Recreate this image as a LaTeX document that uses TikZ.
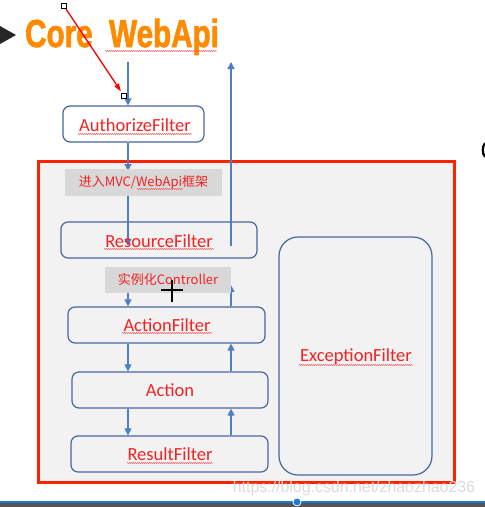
\documentclass[tikz,border=0pt]{standalone}
\usepackage{fontspec}
\usetikzlibrary{arrows.meta,decorations.pathmorphing,calc}
\newfontfamily\labfont{Carlito}
\newfontfamily\cjkfont{Noto Sans CJK SC}
\newfontfamily\titlefont[FakeBold=2]{Liberation Sans Bold}
\newfontfamily\wmfont{Liberation Sans}
\definecolor{boxblue}{HTML}{44689C}
\definecolor{arrblue}{HTML}{4F7FC0}
\definecolor{labred}{HTML}{F22222}
\definecolor{panel}{HTML}{F3F2F3}
\definecolor{labgray}{HTML}{D9D8D9}
\definecolor{titleorange}{HTML}{FF8A00}
\definecolor{framered}{HTML}{FF2200}
\definecolor{barblue}{HTML}{1E78D7}
\definecolor{bargray}{HTML}{555555}
\tikzset{
  fbox/.style={draw=boxblue, line width=1.2pt, rounded corners=7pt, inner sep=0pt,
    text=labred, font=\labfont\fontsize{18.5}{20}\selectfont},
  tag/.style={fill=labgray, inner sep=0pt, text=labred, font=\cjkfont\fontsize{13}{15}\selectfont},
  arr/.style={draw=arrblue, line width=1.3pt, -{Triangle[length=7pt,width=7pt]}},
  squig/.style={draw=labred!70, line width=0.5pt, decorate,
    decoration={snake, amplitude=0.6pt, segment length=2pt}},
}
\begin{document}
\begin{tikzpicture}[x=1pt,y=-1pt]
\useasboundingbox (0,0) rectangle (485,507);
\fill[white] (0,0) rectangle (485,507);
% title
\fill[black!85] (0,26) -- (16,35) -- (0,44) -- cycle;
\node[anchor=base west, inner sep=0pt, text=titleorange, xscale=0.76,
  font=\titlefont\fontsize{39}{40}\selectfont] (title) at (25,47) {Core\ \ WebApi};
\draw[squig] (105,51) -- (217,51);
% frame
\node[draw=framered, line width=3pt, fill=panel, minimum width=416pt, minimum height=321pt,
  inner sep=0pt] (frame) at (246,321.5) {};
% coordinates
\coordinate (dl) at (128,0);
\coordinate (ul) at (231,0);
\coordinate (in) at (128,62);
\coordinate (out) at (231,62);
\coordinate (rin) at (128,246);
\coordinate (rout) at (231,246);
\coordinate (cin) at (231,285);
\coordinate (l1t) at (128,171);
\coordinate (l1b) at (128,184);
\coordinate (l2b) at (128,280);
% nodes (boxes without fill so the arrows show)
\path
  node[fbox, minimum width=141pt, minimum height=36pt] (auth) at (133.5,124) {}
  node[fbox, minimum width=196pt, minimum height=36pt] (resf) at (159,240) {}
  node[fbox, minimum width=197pt, minimum height=36pt] (actf) at (166.5,325) {}
  node[fbox, minimum width=196pt, minimum height=36pt] (act) at (170,390) {}
  node[fbox, minimum width=197pt, minimum height=36pt] (resultf) at (169.5,454) {}
  node[fbox, rounded corners=19pt, minimum width=153pt, minimum height=238pt] (exc) at (355.5,356) {};
% arrows
\draw[arr] (in) -- (auth.north -| dl);
\draw[arr] (auth.south -| dl) -- (l1t);
\draw[arr] (l1b) -- (rin);
\draw[arr] (rout) -- (out);
\draw[arr] (actf.north -| ul) -- (cin);
\draw[arr] (l2b) -- (actf.north -| dl);
\draw[arr] (actf.south -| dl) -- (act.north -| dl);
\draw[arr] (act.south -| dl) -- (resultf.north -| dl);
\draw[arr] (act.north -| ul) -- (actf.south -| ul);
\draw[arr] (resultf.north -| ul) -- (act.south -| ul);
% tags
\node[tag, minimum width=157pt, minimum height=27pt] (lab1) at (143.5,182.5) {进入MVC/WebApi框架};
\node[tag, minimum width=126pt, minimum height=26pt] (lab2) at (168,280) {实例化Controller};
% texts
\node[text=labred, font=\labfont\fontsize{18.5}{20}\selectfont] at (135,125) {AuthorizeFilter};
\node[text=labred, font=\labfont\fontsize{18.5}{20}\selectfont] at (159,241) {ResourceFilter};
\node[text=labred, font=\labfont\fontsize{18.5}{20}\selectfont] at (167,325) {ActionFilter};
\node[text=labred, font=\labfont\fontsize{18.5}{20}\selectfont] at (170,390) {Action};
\node[text=labred, font=\labfont\fontsize{18.5}{20}\selectfont] at (170,454) {ResultFilter};
\node[text=labred, font=\labfont\fontsize{18.5}{20}\selectfont] at (356,357) {ExceptionFilter};
\draw[squig] (78,134) -- (192,134);
\draw[squig] (137,189) -- (183,189);
\draw[squig] (104,249) -- (214,249);
\draw[squig] (122,333) -- (212,333);
\draw[squig] (127,463) -- (213,463);
\draw[squig] (299,365) -- (413,365);
% red selected arrow
\coordinate (ra) at (64,6);
\coordinate (rb) at (124,96);
\draw[red, line width=1.3pt, -{Triangle[length=8pt,width=5pt]}] (ra) -- ($(rb)!0.05!(ra)$);
\draw[black, fill=white, line width=0.6pt] (61.5,3.5) rectangle (66.5,8.5);
\draw[black, fill=white, line width=0.6pt] (121.5,93.5) rectangle (126.5,98.5);
% cursor
\draw[black, line width=2pt] (161,290) -- (183,290) (172,280) -- (172,302);
% right edge fragment
\draw[black, line width=2.2pt] (485,143) .. controls (482,147) and (482,153) .. (485,157);
% watermark
\node[text=white!86!black, font=\wmfont\fontsize{15.9}{17}\selectfont] (wm) at (354,488) {https://blog.csdn.net/zhaozhao236};
% bottom bar
\fill[barblue] (0,500.5) rectangle (485,503);
\fill[bargray] (0,503) rectangle (485,507);
\fill[barblue, draw=white, line width=0.8pt] (297,502) circle (4pt);
\end{tikzpicture}
\end{document}
